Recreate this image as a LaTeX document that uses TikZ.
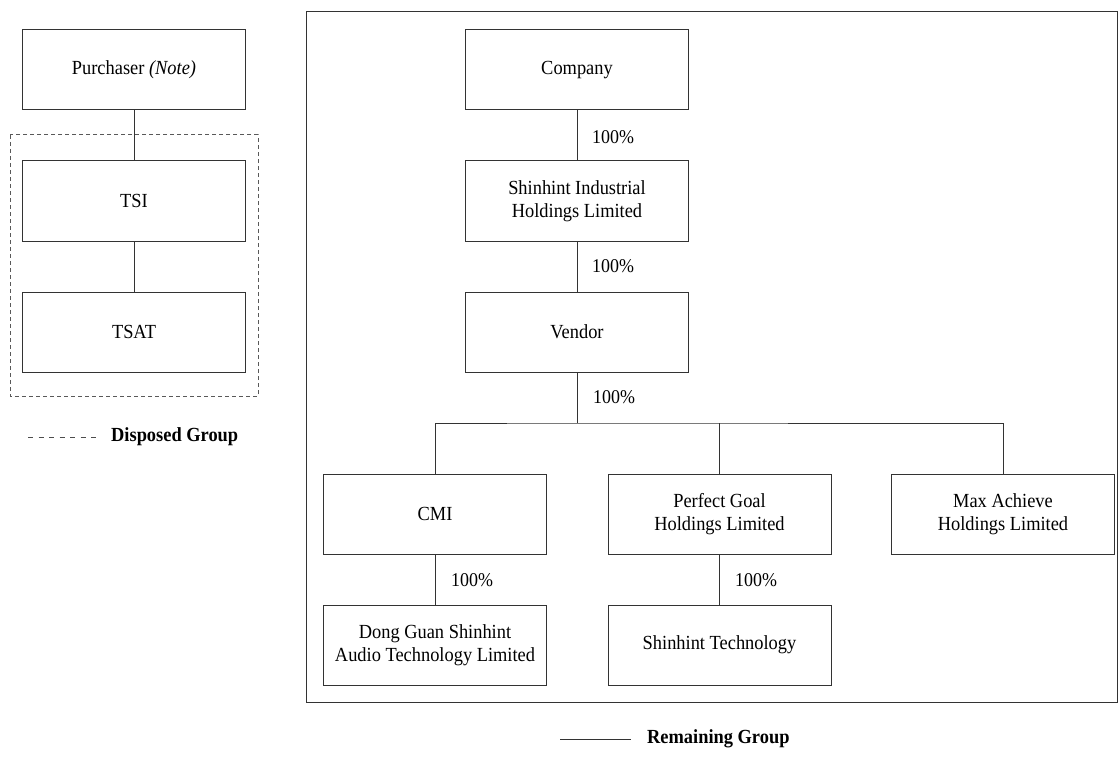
\documentclass[tikz,border=0pt]{standalone}
\usepackage{fontspec}
\setmainfont{Liberation Serif}[FakeStretch=0.92]
\begin{document}
\begin{tikzpicture}[x=1pt,y=-1pt,
  box/.style={draw=black!80,line width=1pt,minimum width=223pt,minimum height=80pt,inner sep=0pt,align=center,
    font=\fontsize{20}{23}\selectfont},
  conn/.style={draw=black!80,line width=0.9pt},
  pct/.style={anchor=west,inner sep=0pt,font=\fontsize{19.5}{22}\selectfont},
  legtxt/.style={anchor=west,inner sep=0pt,font=\fontsize{20}{22}\selectfont\bfseries}]
\useasboundingbox (0,0) rectangle (1119,757);
% left group
\node[box] (pur) at (134,69.5) {Purchaser \textit{(Note)}};
\node[box] (tsi) at (134,201) {TSI};
\node[box] (tsat) at (134,332) {TSAT};
\draw[draw=black!65,line width=1pt,dash pattern=on 4pt off 3pt] (10,135) rectangle (258,396);
\draw[conn] (pur.south) -- (tsi.north);
\draw[conn] (tsi.south) -- (tsat.north);
\coordinate (dl1) at (28,437);
\coordinate (dl2) at (99,437);
\draw[draw=black!70,line width=0.8pt,dash pattern=on 5pt off 5.5pt] (dl1) -- (dl2);
\node[legtxt] (dleg) at (111,437) {Disposed Group};
% remaining group frame
\draw[draw=black!80,line width=1pt] (306,12) rectangle (1117,702);
\node[box] (comp) at (577,70) {Company};
\node[box] (sih) at (577,201) {Shinhint Industrial\\Holdings Limited};
\node[box] (vend) at (577,332) {Vendor};
\node[box] (cmi) at (435,514) {CMI};
\node[box] (pg) at (719.5,514) {Perfect Goal\\Holdings Limited};
\node[box] (max) at (1003,514) {Max Achieve\\Holdings Limited};
\node[box] (dg) at (435,645) {Dong Guan Shinhint\\Audio Technology Limited};
\node[box] (st) at (719.5,645) {Shinhint Technology};
\coordinate (bus) at (577,423);
\draw[conn] (comp.south) -- (sih.north);
\draw[conn] (sih.south) -- (vend.north);
\draw[conn] (vend.south) -- (bus);
\draw[conn] (cmi.north) |- (bus) -| (max.north);
\draw[conn] (pg.north) -- (pg.north |- bus);
\draw[conn] (cmi.south) -- (dg.north);
\draw[conn] (pg.south) -- (st.north);
\node[pct] (p1) at (592,137) {100\%};
\node[pct] (p2) at (592,266) {100\%};
\node[pct] (p3) at (593,397) {100\%};
\node[pct] (p4) at (451,580) {100\%};
\node[pct] (p5) at (735,580) {100\%};
% legend
\coordinate (rl1) at (560,739);
\coordinate (rl2) at (631,739);
\draw[draw=black!80,line width=1pt] (rl1) -- (rl2);
\node[legtxt] (rleg) at (647,739) {Remaining Group};
\end{tikzpicture}
\end{document}
